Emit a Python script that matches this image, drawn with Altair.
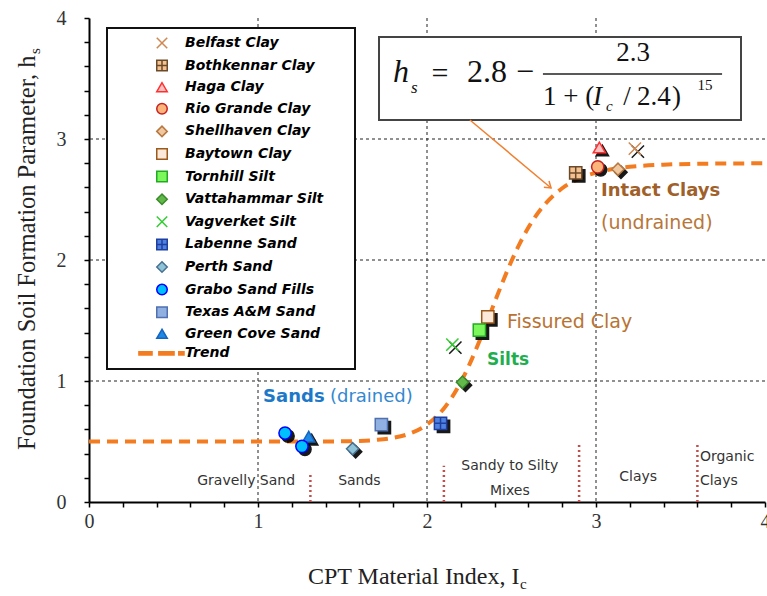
import altair as alt
import pandas as pd

# ---------------- data ----------------
legend_series = ["Belfast Clay", "Bothkennar Clay", "Haga Clay", "Rio Grande Clay",
                 "Shellhaven Clay", "Baytown Clay", "Tornhill Silt", "Vattahammar Silt",
                 "Vagverket Silt", "Labenne Sand", "Perth Sand", "Grabo Sand Fills",
                 "Texas A&M Sand", "Green Cove Sand", "Trend"]

point_series = ["Belfast Clay", "Bothkennar Clay", "Haga Clay", "Rio Grande Clay",
                "Shellhaven Clay", "Baytown Clay", "Tornhill Silt", "Vattahammar Silt",
                "Vagverket Silt", "Labenne Sand", "Perth Sand", "Texas A&M Sand",
                "Green Cove Sand", "Grabo Sand Fills", "Grabo Sand Fills"]
point_ic = [3.23, 2.88, 3.02, 3.01, 3.13, 2.36, 2.31, 2.21, 2.15, 2.08, 1.56, 1.73, 1.30, 1.16, 1.26]
point_hs = [2.92, 2.72, 2.93, 2.77, 2.75, 1.53, 1.42, 0.99, 1.30, 0.65, 0.44, 0.64, 0.54, 0.57, 0.46]

trend_ic = [0.0, 0.5, 1.0, 1.2, 1.4, 1.6, 1.7, 1.8, 1.9, 2.0, 2.1, 2.15, 2.2, 2.25, 2.3, 2.35,
            2.4, 2.45, 2.5, 2.55, 2.6, 2.7, 2.8, 2.9, 3.0, 3.1, 3.2, 3.4, 3.6, 4.0]
trend_hs = [0.50, 0.50, 0.50, 0.50, 0.50, 0.505, 0.513, 0.530, 0.567, 0.640, 0.773, 0.871,
            0.991, 1.133, 1.295, 1.470, 1.650, 1.827, 1.992, 2.140, 2.268, 2.464, 2.593,
            2.673, 2.722, 2.752, 2.770, 2.788, 2.795, 2.799]

zone_ic = [1.31, 2.10, 2.90, 3.60]
zone_top = [0.23, 0.30, 0.48, 0.48]
grid_vals = [1, 2, 3]
tick_vals = [0, 0.2, 0.4, 0.6, 0.8, 1, 1.2, 1.4, 1.6, 1.8, 2, 2.2, 2.4, 2.6, 2.8, 3,
             3.2, 3.4, 3.6, 3.8, 4]

zone_labels = ["Gravelly Sand", "Sands", "Sandy to Silty", "Mixes", "Clays"]
zone_label_ic = [0.93, 1.60, 2.49, 2.49, 3.25]
zone_label_hs = [0.17, 0.17, 0.30, 0.09, 0.21]
organic_labels = ["Organic", "Clays"]
organic_ic = [3.615, 3.615]
organic_hs = [0.37, 0.17]

# ---------------- styles ----------------
X_PATH = "M-1,-1L1,1M-1,1L1,-1"
PLUS_SQ = "M-1,-1H1V1H-1Z M0,-1V1 M-1,0H1"
TREND_PATH = "M-4.4,-0.3H-1.9V0.3H-4.4Z M-0.6,-0.3H2.3V0.3H-0.6Z M3.2,-0.3H4.2V0.3H3.2Z"

shape_map = {
    "Belfast Clay": X_PATH, "Bothkennar Clay": PLUS_SQ, "Haga Clay": "triangle-up",
    "Rio Grande Clay": "circle", "Shellhaven Clay": "diamond", "Baytown Clay": "square",
    "Tornhill Silt": "square", "Vattahammar Silt": "diamond", "Vagverket Silt": X_PATH,
    "Labenne Sand": PLUS_SQ, "Perth Sand": "diamond", "Grabo Sand Fills": "circle",
    "Texas A&M Sand": "square", "Green Cove Sand": "triangle-up", "Trend": TREND_PATH,
}
fill_map = {
    "Belfast Clay": "#d4955f", "Bothkennar Clay": "#f4c290", "Haga Clay": "#ffc0c0",
    "Rio Grande Clay": "#fbb47a", "Shellhaven Clay": "#f0c8a0", "Baytown Clay": "#fde9d9",
    "Tornhill Silt": "#7cf75c", "Vattahammar Silt": "#62b84a", "Vagverket Silt": "#4fd04f",
    "Labenne Sand": "#4f81e0", "Perth Sand": "#8ec3d8", "Grabo Sand Fills": "#00c0ff",
    "Texas A&M Sand": "#8fb0e0", "Green Cove Sand": "#1e88e5", "Trend": "#f47c20",
}
stroke_map = {
    "Belfast Clay": "#d08850", "Bothkennar Clay": "#6b4a2a", "Haga Clay": "#ff3030",
    "Rio Grande Clay": "#c82020", "Shellhaven Clay": "#b87840", "Baytown Clay": "#9c5a1a",
    "Tornhill Silt": "#22aa22", "Vattahammar Silt": "#3a8a2a", "Vagverket Silt": "#33cc33",
    "Labenne Sand": "#1f3fa0", "Perth Sand": "#4a7090", "Grabo Sand Fills": "#0000ff",
    "Texas A&M Sand": "#5070b0", "Green Cove Sand": "#1565c0", "Trend": "#f47c20",
}

ORANGE = "#f47c20"
SERIF = "Liberation Serif"
SANS = "DejaVu Sans"

xs = alt.Scale(domain=[0, 4], nice=False, zero=False)
ys = alt.Scale(domain=[0, 4], nice=False, zero=False)
lab_expr = "datum.value % 1 === 0 ? format(datum.value, 'd') : ''"
xaxis = alt.Axis(values=tick_vals, labelExpr=lab_expr, title=None, grid=False,
                 labelFlush=False, labelOverlap=False, tickSize=5, labelPadding=4)
yaxis = alt.Axis(values=tick_vals, labelExpr=lab_expr, title=None, grid=False,
                 labelFlush=False, labelOverlap=False, tickSize=5, labelPadding=18)


def X(f):
    return alt.X(f, type="quantitative", scale=xs, axis=xaxis)


def Y(f):
    return alt.Y(f, type="quantitative", scale=ys, axis=yaxis)


df_pts = pd.DataFrame({"series": point_series, "Ic": point_ic, "hs": point_hs})
df_trend = pd.DataFrame({"Ic": trend_ic, "hs": trend_hs})

# grid lines
grid_x = alt.Chart(pd.DataFrame({"v": grid_vals})).mark_rule(
    color="#222", strokeWidth=1, strokeDash=[3, 3]).encode(x=X("v"))
grid_y = alt.Chart(pd.DataFrame({"v": grid_vals})).mark_rule(
    color="#222", strokeWidth=1, strokeDash=[3, 3]).encode(y=Y("v"))

# zone boundaries
zones = alt.Chart(pd.DataFrame({"Ic": zone_ic, "top": zone_top, "bot": [0] * len(zone_ic)})).mark_rule(
    color="#c0504d", strokeWidth=2.5, strokeDash=[2, 3]).encode(x=X("Ic"), y=Y("bot"), y2="top")


def text_layer(texts, xv, yv, **kw):
    return alt.Chart(pd.DataFrame({"t": texts, "x": xv, "y": yv})).mark_text(**kw).encode(
        x=X("x"), y=Y("y"), text="t:N")


zone_txt = text_layer(zone_labels, zone_label_ic, zone_label_hs, font=SANS, fontSize=14,
                      color="#333", align="center", baseline="middle")
org_txt = text_layer(organic_labels, organic_ic, organic_hs, font=SANS, fontSize=14,
                     color="#333", align="left", baseline="middle")

# trend
trend = alt.Chart(df_trend).mark_line(color=ORANGE, strokeWidth=4, strokeDash=[11, 7],
                                      interpolate="monotone").encode(x=X("Ic"), y=Y("hs"))

# equation box
box = alt.Chart(pd.DataFrame({"x": [1.716], "x2": [3.858], "y": [3.157], "y2": [3.843]})).mark_rect(
    fill="white", stroke="#444", strokeWidth=2).encode(x=X("x"), x2="x2", y=Y("y"), y2="y2")
frac = alt.Chart(pd.DataFrame({"x": [2.686], "x2": [3.746], "y": [3.537]})).mark_rule(
    color="#222", strokeWidth=1.5).encode(x=X("x"), x2="x2", y=Y("y"))

EQ = dict(font=SERIF, baseline="middle", color="#111")
eq = [
    text_layer(["h"], [1.846], [3.554], fontSize=32, fontStyle="italic", align="center", **EQ),
    text_layer(["s"], [1.905], [3.421], fontSize=17, fontStyle="italic", align="left", **EQ),
    text_layer(["="], [2.077], [3.537], fontSize=30, align="center", **EQ),
    text_layer(["2.8"], [2.237], [3.554], fontSize=32, align="left", **EQ),
    text_layer(["\u2212"], [2.580], [3.554], fontSize=32, align="center", **EQ),
    text_layer(["2.3"], [3.219], [3.711], fontSize=27, align="center", **EQ),
    text_layer(["1 + ("], [2.686], [3.347], fontSize=27, align="left", **EQ),
    text_layer(["I"], [2.982], [3.347], fontSize=27, fontStyle="italic", align="left", **EQ),
    text_layer(["c"], [3.059], [3.273], fontSize=15, fontStyle="italic", align="left", **EQ),
    text_layer(["/"], [3.183], [3.347], fontSize=27, align="center", **EQ),
    text_layer(["2.4"], [3.243], [3.347], fontSize=27, align="left", **EQ),
    text_layer([")"], [3.450], [3.347], fontSize=27, align="left", **EQ),
    text_layer(["15"], [3.600], [3.445], fontSize=15, align="left", **EQ),
]

# arrow
arrow = alt.Chart(pd.DataFrame({"x": [2.254], "y": [3.157], "x2": [2.734], "y2": [2.595]})).mark_rule(
    color="#f08030", strokeWidth=1.5).encode(x=X("x"), y=Y("y"), x2="x2", y2="y2")
arrow_head = alt.Chart(pd.DataFrame({"x": [2.734], "y": [2.595]})).mark_point(
    shape="M-0.8,-1.2L0,0L0.8,-1.2", angle=310, size=100, stroke="#f08030", strokeWidth=1.5,
    fill="transparent", filled=False, opacity=1).encode(x=X("x"), y=Y("y"))

# shadows (black copies offset down-right)
shadow_layers = []
groups = {}
for s in legend_series[:-1]:
    groups.setdefault(shape_map[s], []).append(s)
for shp, members in groups.items():
    shadow_layers.append(
        alt.Chart(df_pts).transform_filter(alt.FieldOneOfPredicate(field="series", oneOf=members))
        .mark_point(shape=shp, size=150, filled=True, color="black", stroke="black", strokeWidth=1.5,
                    xOffset=3, yOffset=3, opacity=0.9)
        .encode(x=X("Ic"), y=Y("hs"))
    )

# invisible (white) title on the right widens the legend box like the reference
leg = alt.Legend(orient="none", legendX=18, legendY=10, title="MM", titleColor="white",
                 titleOrient="right", titleFontSize=14, titlePadding=0)
points = alt.Chart(df_pts).mark_point(size=150, strokeWidth=1.5, opacity=1, fillOpacity=1).encode(
    x=X("Ic"), y=Y("hs"),
    shape=alt.Shape("series:N", scale=alt.Scale(domain=legend_series, range=[shape_map[s] for s in legend_series]), legend=leg),
    fill=alt.Fill("series:N", scale=alt.Scale(domain=legend_series, range=[fill_map[s] for s in legend_series]), legend=leg),
    stroke=alt.Stroke("series:N", scale=alt.Scale(domain=legend_series, range=[stroke_map[s] for s in legend_series]), legend=leg),
)

# region annotations
ANN = dict(font=SANS, align="left", baseline="middle")
ann = [
    text_layer(["Intact Clays"], [3.030], [2.570], fontSize=18, fontWeight="bold", color="#a0602a", **ANN),
    text_layer(["(undrained)"], [3.030], [2.306], fontSize=19, color="#b7773a", **ANN),
    text_layer(["Fissured Clay"], [2.473], [1.488], fontSize=19, color="#b87333", **ANN),
    text_layer(["Silts"], [2.355], [1.174], fontSize=17, fontWeight="bold", color="#1fae4f", **ANN),
    text_layer(["Sands"], [1.030], [0.868], fontSize=18, fontWeight="bold", color="#1e78c8", **ANN),
    text_layer(["(drained)"], [1.426], [0.868], fontSize=18, color="#3388d0", **ANN),
]


# axis titles (as text so that subscripts can be drawn)
def px_text(t, xv, yv, **kw):
    return alt.Chart(pd.DataFrame({"t": [t]})).mark_text(**kw).encode(
        x=alt.value(xv), y=alt.value(yv), text="t:N")


TT = dict(font=SERIF, color="#222", align="left", baseline="middle")
titles = [
    px_text("CPT Material Index, I", 219, 559, fontSize=24, **TT),
    px_text("c", 431, 566, fontSize=15, **TT),
    px_text("Foundation Soil Formation Parameter, h", -61, 432, fontSize=24.5, angle=270, **TT),
    px_text("s", -54, 36, fontSize=15, angle=270, **TT),
]

chart = alt.layer(
    grid_x, grid_y, zones, zone_txt, org_txt, trend, box, frac, *eq, arrow, arrow_head,
    *shadow_layers, points, *ann, *titles
).properties(
    width=676, height=484,
    autosize=alt.AutoSizeParams(type="none"),
    padding={"left": 89, "top": 18, "right": 2, "bottom": 94},
).configure_view(stroke=None).configure_axis(
    domainColor="black", domainWidth=2, tickColor="black", tickWidth=1.5,
    labelFont=SERIF, labelFontSize=20, labelColor="#333",
).configure_legend(
    fillColor="white", strokeColor="#111", strokeWidth=2, padding=8,
    labelFont=SANS, labelFontSize=14, labelFontWeight="bold", labelFontStyle="italic",
    labelColor="black", labelLimit=400, symbolSize=110, symbolStrokeWidth=1.5,
    rowPadding=4.6, symbolOffset=40, labelOffset=16,
)

chart.save("out.html", embed_options={"renderer": "svg", "actions": False})
